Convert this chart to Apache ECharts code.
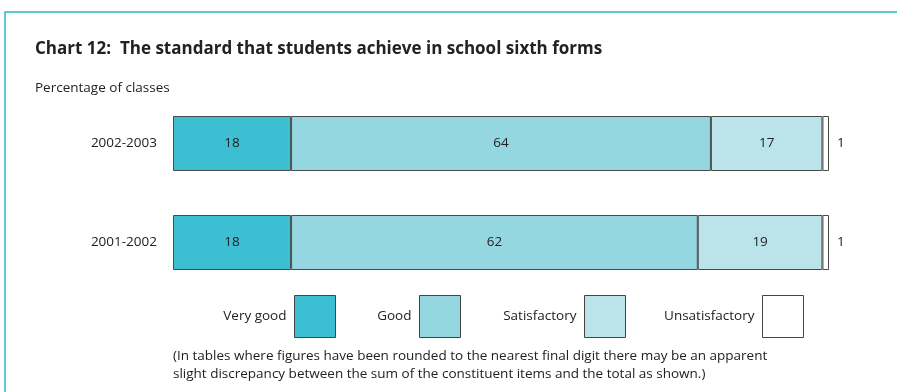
<!DOCTYPE html>
<html>
<head>
<meta charset="utf-8">
<script src="https://cdn.jsdelivr.net/npm/echarts@6/dist/echarts.min.js"></script>
<style>
  html, body { margin: 0; padding: 0; background: #fff; }
  #chart { width: 897px; height: 392px; }
</style>
</head>
<body>
<div id="chart"></div>
<script>
// School years, top to bottom
const years = ['2002-2003', '2001-2002'];
// Percentage of classes in each grade
const veryGood = [18, 18];
const good = [64, 62];
const satisfactory = [17, 19];
const unsatisfactory = [1, 1];

const seriesNames = ['Very good', 'Good', 'Satisfactory', 'Unsatisfactory'];
const seriesValues = [veryGood, good, satisfactory, unsatisfactory];
const colors = ['#3DBFD3', '#95D7E1', '#BAE3EA', '#FFFFFF'];

const FONT = '"Open Sans"';
const TEXT = '#222';
const SIZE = 13.5;

const chart = echarts.init(document.getElementById('chart'));

const series = seriesNames.map((name, i) => ({
  name,
  type: 'bar',
  stack: 'total',
  barWidth: 55,
  data: seriesValues[i],
  itemStyle: { color: colors[i], borderColor: '#4a4a4a', borderWidth: 1 },
  label: {
    show: true,
    position: i === 3 ? 'right' : 'inside',
    distance: 8,
    color: TEXT,
    fontFamily: FONT,
    fontSize: SIZE
  },
  emphasis: { disabled: true }
}));

// one legend per grade, anchored by the right edge of its swatch
const legendRights = [561, 436, 271, 93];
const legends = seriesNames.map((name, i) => ({
  data: [name],
  right: legendRights[i],
  top: 295,
  padding: 0,
  orient: 'horizontal',
  align: 'right',
  itemWidth: 41,
  itemHeight: 42,
  icon: 'rect',
  selectedMode: false,
  itemStyle: { borderColor: '#444', borderWidth: 1 },
  textStyle: { color: TEXT, fontFamily: FONT, fontSize: SIZE, padding: [0, 3, 0, 0] }
}));

chart.setOption({
  animation: false,
  grid: { left: 173, right: 68, top: 94, bottom: 100 },
  xAxis: {
    type: 'value',
    min: 0,
    max: 100,
    show: false
  },
  yAxis: {
    type: 'category',
    data: years,
    inverse: true,
    axisLine: { show: false },
    axisTick: { show: false },
    axisLabel: { margin: 16, color: TEXT, fontFamily: FONT, fontSize: SIZE }
  },
  legend: legends,
  series,
  graphic: [
    {
      type: 'rect',
      shape: { x: 5, y: 12, width: 1000, height: 500 },
      style: { fill: 'none', stroke: '#5CCAD6', lineWidth: 2 },
      silent: true
    },
    {
      type: 'text',
      left: 35,
      top: 41,
      style: {
        text: 'Chart 12:  The standard that students achieve in school sixth forms',
        fill: TEXT,
        font: 'bold 17px ' + FONT
      }
    },
    {
      type: 'text',
      left: 35,
      top: 81,
      style: { text: 'Percentage of classes', fill: TEXT, font: SIZE + 'px ' + FONT }
    },
    {
      type: 'text',
      left: 173,
      top: 347,
      style: {
        text: '(In tables where figures have been rounded to the nearest final digit there may be an apparent\nslight discrepancy between the sum of the constituent items and the total as shown.)',
        fill: TEXT,
        font: SIZE + 'px ' + FONT,
        lineHeight: 18
      }
    }
  ]
});
</script>
</body>
</html>
